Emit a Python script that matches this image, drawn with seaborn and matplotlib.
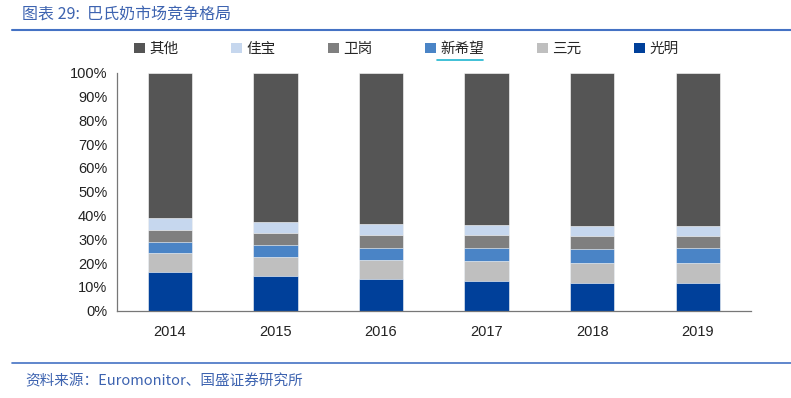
import matplotlib
matplotlib.use("Agg")
import matplotlib.pyplot as plt
import seaborn as sns
import pandas as pd
import numpy as np
from matplotlib.patches import Patch
from matplotlib.lines import Line2D

years = ["2014", "2015", "2016", "2017", "2018", "2019"]
# bottom -> top
series_names = ["光明", "三元", "新希望", "卫岗", "佳宝", "其他"]
guangming = [16.1, 14.5, 13.2, 12.4, 11.6, 11.5]
sanyuan   = [8.0, 8.1, 8.1, 8.4, 8.6, 8.7]
xinxiwang = [4.8, 4.9, 5.2, 5.5, 5.7, 6.1]
weigang   = [5.0, 5.1, 5.3, 5.4, 5.4, 5.2]
jiabao    = [5.2, 4.5, 4.5, 4.2, 4.2, 4.0]
qita      = [60.9, 62.9, 63.7, 64.1, 64.5, 64.5]
yticks = [0, 10, 20, 30, 40, 50, 60, 70, 80, 90, 100]
ytick_labels = ["0%", "10%", "20%", "30%", "40%", "50%", "60%", "70%", "80%", "90%", "100%"]

colors = {"光明": "#00409a", "三元": "#bfbfbf", "新希望": "#4a84c6",
          "卫岗": "#7f7f7f", "佳宝": "#c6d7ee", "其他": "#555555"}

sns.set_theme(style="white")
plt.rcParams["font.family"] = ["Liberation Sans", "Noto Sans CJK SC", "DejaVu Sans"]

df = pd.DataFrame({"year": years, "光明": guangming, "三元": sanyuan, "新希望": xinxiwang,
                   "卫岗": weigang, "佳宝": jiabao, "其他": qita})

fig = plt.figure(figsize=(7.91, 3.98), dpi=100)
ax = fig.add_axes([117/791, 1 - 310.7/398, (750.6 - 117)/791, (310.7 - 72.7)/398])

cum = df[series_names].cumsum(axis=1)
for name in reversed(series_names):
    sns.barplot(x=df["year"], y=cum[name], color=colors[name], width=0.42,
                ax=ax, saturation=1, order=years, edgecolor="white", linewidth=0.4)

ax.set_ylim(0, 100)
ax.set_xlim(-0.5, 5.5)
ax.set_yticks(yticks)
ax.set_yticklabels(ytick_labels, fontsize=10.5, color="#222222")
ax.set_xticks(range(len(years)))
ax.set_xticklabels(years, fontsize=10.5, color="#222222")
ax.set_xticks([i + 0.5 for i in range(len(years))], minor=True)
ax.tick_params(axis="x", which="major", length=0, pad=10)
ax.tick_params(axis="x", which="minor", direction="in", length=4, color="#777777", width=0.8)
ax.tick_params(axis="y", which="major", direction="out", length=4, color="#777777", width=0.8, pad=3)
ax.set_xlabel("")
ax.set_ylabel("")
for s in ["top", "right"]:
    ax.spines[s].set_visible(False)
for s in ["left", "bottom"]:
    ax.spines[s].set_color("#777777")
    ax.spines[s].set_linewidth(0.9)

# legend (order as shown: top series first)
leg_order = ["其他", "佳宝", "卫岗", "新希望", "三元", "光明"]
handles = [Patch(facecolor=colors[n], edgecolor="none") for n in leg_order]
leg = fig.legend(handles, leg_order, ncol=6, loc="center left",
                 bbox_to_anchor=(134/791, 1 - 49/398), frameon=False,
                 prop={"family": ["Noto Sans CJK SC"], "size": 10.5},
                 handlelength=0.75, handleheight=0.75, handletextpad=0.3,
                 columnspacing=3.6, borderaxespad=0, borderpad=0)

# underline under 新希望 (as in reference)
fig.add_artist(Line2D([437/791, 483/791], [1 - 60/398, 1 - 60/398], color="#1fb5d0", lw=1.2))

# title and framing lines
fig.text(22/791, 1 - 14/398, "图表 29:  巴氏奶市场竞争格局", fontsize=11.5, color="#3d63b0",
         family=["Noto Sans CJK SC"], style="italic", va="center", ha="left")
fig.add_artist(Line2D([12/791, 1.0], [1 - 30/398, 1 - 30/398], color="#4472c4", lw=1.5))
fig.add_artist(Line2D([12/791, 1.0], [1 - 363/398, 1 - 363/398], color="#4472c4", lw=1.2))
fig.text(25/791, 1 - 381/398, "资料来源：Euromonitor、国盛证券研究所", fontsize=10.5, color="#3d63b0",
         family=["Noto Sans CJK SC"], style="italic", va="center", ha="left")

fig.savefig("out.png", dpi=100)
